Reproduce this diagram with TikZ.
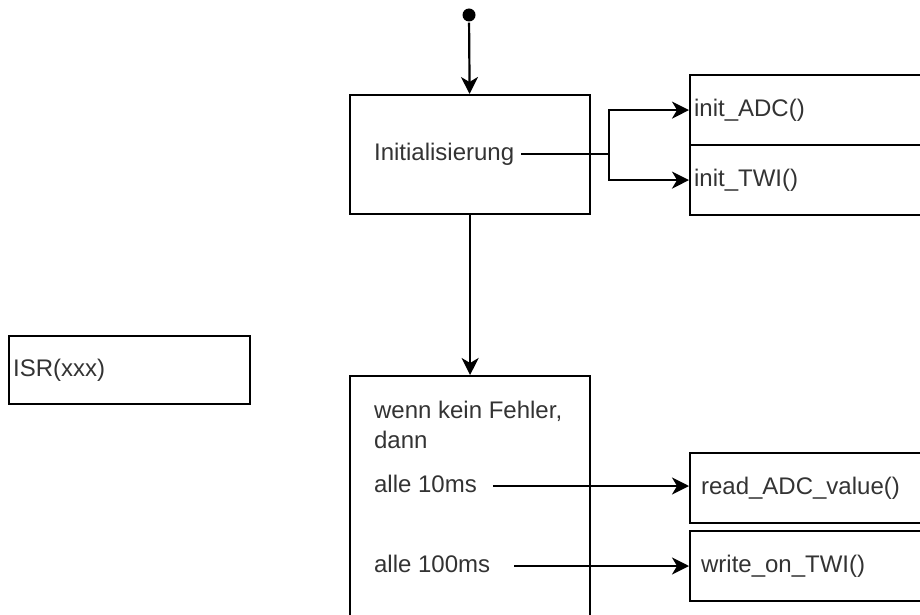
\documentclass[tikz,border=0pt]{standalone}
\usepackage{fontspec}
\setmainfont{Liberation Sans}
\usetikzlibrary{arrows.meta}
\begin{document}
\begin{tikzpicture}[x=1pt, y=-1pt, line width=2.2pt,
  every node/.style={font=\fontsize{24}{30}\selectfont, text=black!80},
  box/.style={draw=black, rectangle, anchor=north west, inner ysep=0pt},
  initfn/.style={box, minimum height=70, inner xsep=4, text width=252, align=left},
  loopfn/.style={box, minimum height=70, inner xsep=11, text width=238, align=left},
  txt/.style={anchor=west, inner sep=0pt, text height=13, text depth=1},
  arr/.style={-{Stealth[length=17pt,width=17pt,inset=5pt]}}]
\useasboundingbox (0,0) rectangle (920,615);
\node[circle, fill=black, minimum size=13, inner sep=0pt] (start) at (469,15) {};
\node[box, minimum width=240, minimum height=119] (init) at (349,94) {};
\node[txt] (inittxt) at (373,154) {Initialisierung};
\node[initfn] (adc) at (689,74) {init\_ADC()};
\node[initfn] (twi) at (689,144) {init\_TWI()};
\node[box, minimum width=240, minimum height=250] (loop) at (349,375) {};
\node[anchor=base west, inner sep=0pt, align=left] (cond) at (373,448) {wenn kein Fehler,\\dann};
\node[txt] (t10) at (373,486) {alle 10ms};
\node[txt] (t100) at (373,566) {alle 100ms};
\node[loopfn] (rd) at (689,452) {read\_ADC\_value()};
\node[loopfn] (wr) at (689,530) {write\_on\_TWI()};
\node[box, inner xsep=4, text width=233, minimum height=68, align=left] (isr) at (8,335) {ISR(xxx)};
% flow
\draw[arr] (start) -- (init);
\draw[arr] (init) -- (loop);
\coordinate (split) at (609,154);
\draw ([xshift=6]inittxt.east) -- (split);
\draw[arr] (split) |- (adc.west);
\draw[arr] (split) |- (twi.west);
\draw[arr] ([xshift=15]t10.east) -- (t10.east -| rd.west);
\draw[arr] ([xshift=23]t100.east) -- (t100.east -| wr.west);
\end{tikzpicture}
\end{document}
